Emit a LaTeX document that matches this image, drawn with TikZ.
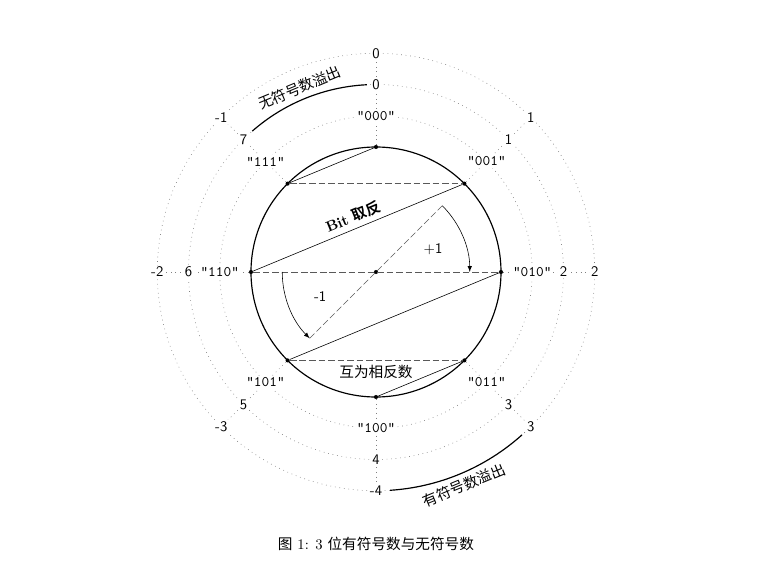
\documentclass[tikz,border=0pt]{standalone}
\usepackage{fontspec}
\newfontfamily\cjk{Noto Sans CJK SC}[BoldFont={Noto Sans CJK SC Bold}]
\usepackage{tikz}

\begin{document}
\begin{tikzpicture}[
      >=latex,
      dot/.style={
        circle,fill,inner sep=0pt,minimum size=2.8pt
      },
      bits/.style={fill=white,inner sep=1pt,font=\ttfamily},
      num/.style={fill=white,inner sep=1pt,font=\sffamily},
      ring/.style={gray,dash pattern=on 0.5pt off 2.6pt},
      pair/.style={gray!70!black,dash pattern=on 4.5pt off 2pt},
    ]
    \useasboundingbox (-9.024,-6.96) rectangle (9.696,6.528);
    \draw[thick] (0,0) circle (3);
    \node[dot] (b0) at (90:3) {};
    \node[dot] (b1) at (45:3) {};
    \node[dot] (b2) at (0:3) {};
    \node[dot] (b3) at (-45:3) {};
    \node[dot] (b4) at (-90:3) {};
    \node[dot] (b5) at (-135:3) {};
    \node[dot] (b6) at (180:3) {};
    \node[dot] (b7) at (135:3) {};
    \node[dot] (c) at (0,0) {};
    \coordinate (o0) at (90:5.25);
    \coordinate (o1) at (45:5.25);
    \coordinate (o2) at (0:5.25);
    \coordinate (o3) at (-45:5.25);
    \coordinate (o4) at (-90:5.25);
    \coordinate (o5) at (-135:5.25);
    \coordinate (o6) at (180:5.25);
    \coordinate (o7) at (135:5.25);
    % dotted rings
    \draw[ring] (0,0) circle (3.75);
    \draw[ring] (0,0) circle (4.5);
    \draw[ring] (0,0) circle (5.25);
    \draw[ring] (b0) -- (o0);
    \draw[ring] (b1) -- (o1);
    \draw[ring] (b2) -- (o2);
    \draw[ring] (b3) -- (o3);
    \draw[ring] (b4) -- (o4);
    \draw[ring] (b5) -- (o5);
    \draw[ring] (b6) -- (o6);
    \draw[ring] (b7) -- (o7);
    % bit patterns
    \node[bits] (l0) at (90:3.75) {"000"};
    \node[bits] (l1) at (45:3.75) {"001"};
    \node[bits] (l2) at (0:3.75) {"010"};
    \node[bits] (l3) at (-45:3.75) {"011"};
    \node[bits] (l4) at (-90:3.75) {"100"};
    \node[bits] (l5) at (-135:3.75) {"101"};
    \node[bits] (l6) at (180:3.75) {"110"};
    \node[bits] (l7) at (135:3.75) {"111"};
    % unsigned
    \node[num] (u0) at (90:4.5) {0};
    \node[num] (u1) at (45:4.5) {1};
    \node[num] (u2) at (0:4.5) {2};
    \node[num] (u3) at (-45:4.5) {3};
    \node[num] (u4) at (-90:4.5) {4};
    \node[num] (u5) at (-135:4.5) {5};
    \node[num] (u6) at (180:4.5) {6};
    \node[num] (u7) at (135:4.5) {7};
    % signed
    \node[num] (s0) at (90:5.25) {0};
    \node[num] (s1) at (45:5.25) {1};
    \node[num] (s2) at (0:5.25) {2};
    \node[num] (s3) at (-45:5.25) {3};
    \node[num] (s4) at (-90:5.25) {-4};
    \node[num] (s5) at (-135:5.25) {-3};
    \node[num] (s6) at (180:5.25) {-2};
    \node[num] (s7) at (135:5.25) {-1};
    % bit flips
    \draw (b0) -- (b7);
    \draw (b1) -- (b6) node[midway,above,sloped] {\bfseries Bit {\cjk 取反}};
    \draw (b2) -- (b5);
    \draw (b3) -- (b4);
    % negation pairs
    \draw[pair] (b7) -- (b1);
    \draw[pair] (b6) -- (b2);
    \draw[pair] (b5) -- (b3) node[midway,below,text=black] {\cjk 互为相反数};
    % +1 / -1
    \coordinate (p1) at (45:2.25);
    \coordinate (m0) at (180:2.25);
    \coordinate (m1) at (225:2.25);
    \draw[pair] (p1) -- (m1);
    \draw[->] (p1) arc[start angle=45,end angle=0,radius=2.25];
    \draw[->] (m0) arc[start angle=180,end angle=225,radius=2.25];
    \node[font=\sffamily] (inc) at (1.37,0.55) {+1};
    \node[font=\sffamily] (dec) at (-1.34,-0.6) {-1};
    % overflow
    \draw[thick] (92.8:4.5) arc[start angle=92.8,end angle=131.3,radius=4.5];
    \node[anchor=south,rotate=22.5] (uo) at (112.5:4.5) {\cjk 无符号数溢出};
    \draw[thick] (-86.3:5.25) arc[start angle=-86.3,end angle=-48.1,radius=5.25];
    \node[anchor=north,rotate=22.5] (so) at (-67.5:5.25) {\cjk 有符号数溢出};
    \node (cap) at (0,-6.53) {{\cjk 图} 1: 3 {\cjk 位有符号数与无符号数}};
  \end{tikzpicture}
\end{document}
